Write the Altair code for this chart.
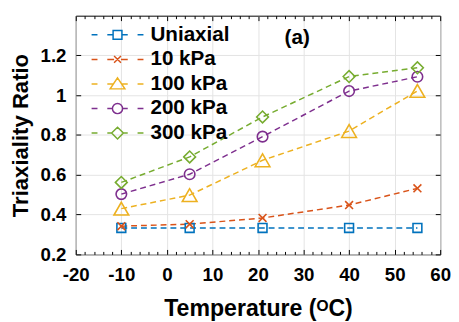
import altair as alt
import pandas as pd

# ---------------- data ----------------
temps = [-10, 5, 21, 40, 55]
series_names = ["Uniaxial", "10 kPa", "100 kPa", "200 kPa", "300 kPa"]
uniaxial = [0.333, 0.333, 0.333, 0.333, 0.333]
kpa10 = [0.342, 0.352, 0.383, 0.448, 0.532]
kpa100 = [0.430, 0.498, 0.673, 0.820, 1.022]
kpa200 = [0.503, 0.603, 0.792, 1.021, 1.093]
kpa300 = [0.562, 0.690, 0.891, 1.094, 1.138]
colors = ["#0072BD", "#D95319", "#EDB120", "#7E2F8E", "#77AC30"]

x_major = [-20, -10, 0, 10, 20, 30, 40, 50, 60]
x_ticks = list(range(-20, 61, 2))
y_ticks = [0.2, 0.4, 0.6, 0.8, 1.0, 1.2]

ann_x = [28.6]
ann_y = [1.285]
ann_text = ["(a)"]

# marker styles
markers = ["square", "M-1,-1L1,1M-1,1L1,-1", "triangle-up", "circle", "diamond"]
marker_sizes = [81, 64, 225, 115, 144]
legend_markers = [
    "M-1.125,-1.125H1.125V1.125H-1.125Z",
    "M-0.875,-0.875L0.875,0.875M-0.875,0.875L0.875,-0.875",
    "M0,-1.55L1.875,1.25L-1.875,1.25Z",
    "M1.3,0A1.3,1.3,0,1,1,-1.3,0A1.3,1.3,0,1,1,1.3,0Z",
    "M0,-1.5L1.5,0L0,1.5L-1.5,0Z",
]
legend_edges = [1.125, 0.875, 1.04, 1.3, 1.5]


def glyph(mpath, e):
    return f"M-6.6,0H-5.1M-2.6,0H{-e}M{e},0H2.6M5.1,0H6.6" + mpath


legend_paths = [glyph(m, e) for m, e in zip(legend_markers, legend_edges)]

rows = []
for name, ys in zip(series_names, [uniaxial, kpa10, kpa100, kpa200, kpa300]):
    for t, y in zip(temps, ys):
        rows.append({"series": name, "temp": t, "ratio": y})
df = pd.DataFrame(rows)
ann = pd.DataFrame({"temp": ann_x, "ratio": ann_y, "label": ann_text})

W, H = 371, 243
FONT = "Liberation Sans"
x_scale = alt.Scale(domain=[-20, 60], nice=False, zero=False)
y_scale = alt.Scale(domain=[0.2, 1.4], nice=False, zero=False)
color_scale = alt.Scale(domain=series_names, range=colors)

x_axis = alt.Axis(
    orient="bottom",
    values=x_major,
    labelExpr="'' + datum.value",
    title="Temperature (ᴼC)",
    titleFont=FONT, titleFontSize=23.5, titleFontWeight="bold", titleColor="black",
    titlePadding=12,
    labelFont=FONT, labelFontSize=19, labelFontWeight="bold", labelColor="black",
    labelPadding=12, labelFlush=False, labelOverlap=False,
    ticks=False, domain=False,
    grid=True, gridColor="#e3e3e3",
)
y_axis = alt.Axis(
    orient="left",
    values=y_ticks, format="~g",
    title="Triaxiality Ratio",
    titleFont=FONT, titleFontSize=22.5, titleFontWeight="bold", titleColor="black",
    titlePadding=8,
    labelFont=FONT, labelFontSize=19, labelFontWeight="bold", labelColor="black",
    labelPadding=10, labelFlush=False,
    ticks=False, domain=False,
    grid=True, gridColor="#e3e3e3",
)

x_enc = alt.X("temp:Q", scale=x_scale, axis=x_axis)
y_enc = alt.Y("ratio:Q", scale=y_scale, axis=y_axis)

data_layers = []
for name, col in zip(series_names, colors):
    data_layers.append(
        alt.Chart(df).transform_filter(alt.datum.series == name)
        .mark_line(strokeDash=[6, 4], strokeWidth=1.5, color=col)
        .encode(x=x_enc, y=y_enc, order="temp:Q")
    )
for name, col, shp, sz in zip(series_names, colors, markers, marker_sizes):
    data_layers.append(
        alt.Chart(df).transform_filter(alt.datum.series == name)
        .mark_point(shape=shp, size=sz, filled=False, strokeWidth=1.6, opacity=1, color=col)
        .encode(x=x_enc, y=y_enc)
    )

leg = alt.Legend(
    title=None, orient="none", legendX=32, legendY=9,
    labelFont=FONT, labelFontSize=21, labelFontWeight="bold", labelColor="black",
    symbolSize=64, symbolStrokeWidth=1.5, symbolOpacity=1,
    labelOffset=23, rowPadding=3, padding=0,
)
legend_layer = alt.Chart(df).mark_point(filled=False, opacity=0, size=1).encode(
    x=x_enc, y=y_enc,
    stroke=alt.Stroke("series:N", scale=color_scale, legend=leg),
    shape=alt.Shape("series:N", scale=alt.Scale(domain=series_names, range=legend_paths), legend=leg),
)

label_layer = alt.Chart(ann).mark_text(
    font=FONT, fontSize=21, fontWeight="bold", color="black"
).encode(x=x_enc, y=y_enc, text="label:N")

main = alt.layer(*data_layers, legend_layer, label_layer)

x_tick_size = {"condition": {"test": "datum.value % 10 === 0", "value": 5}, "value": 3}


def tick_layer(x_orient, y_orient):
    return alt.Chart(df).mark_point(opacity=0).encode(
        x=alt.X("temp:Q", scale=x_scale, axis=alt.Axis(
            orient=x_orient, offset=-H, values=x_ticks, labels=False, title=None,
            grid=False, domain=False, tickSize=x_tick_size, tickColor="black", tickWidth=1,
        )),
        y=alt.Y("ratio:Q", scale=y_scale, axis=alt.Axis(
            orient=y_orient, offset=-W, values=y_ticks, labels=False, title=None,
            grid=False, domain=False, tickSize=5, tickColor="black", tickWidth=1,
        )),
    )


# a "top" axis pulled down to the bottom edge draws ticks pointing inwards, etc.
ticks_a = tick_layer("top", "right")
ticks_b = tick_layer("bottom", "left")

chart = alt.layer(main, ticks_a, ticks_b).resolve_axis(
    x="independent", y="independent"
).properties(
    width=W, height=H,
    autosize=alt.AutoSizeParams(type="none"),
    padding={"left": 69, "top": 5, "right": 11, "bottom": 66},
    background="white",
).configure_view(stroke="black", strokeWidth=1)

chart.save("out.html", embed_options={"renderer": "svg", "actions": False})
